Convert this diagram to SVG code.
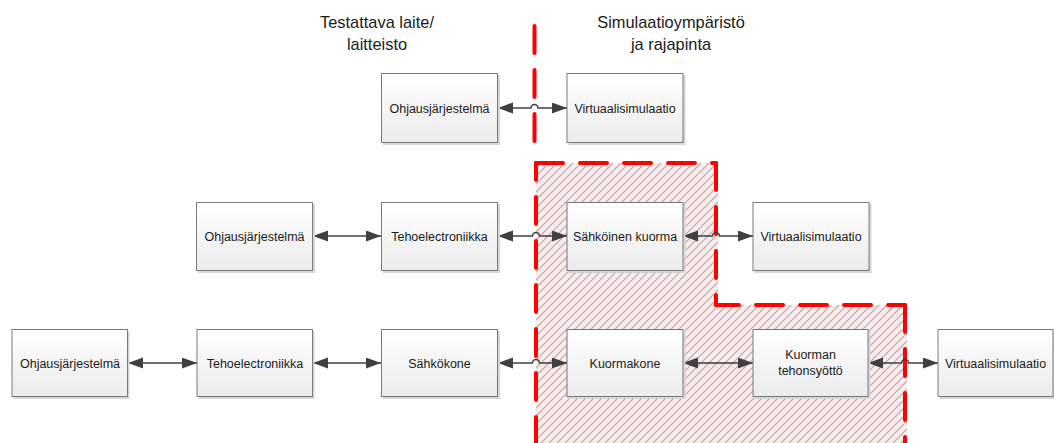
<svg xmlns="http://www.w3.org/2000/svg" width="1054" height="443" viewBox="0 0 1054 443">
<style>
.box{fill:url(#boxg);stroke:#7a7a7a;stroke-width:1}
.sh{fill:#d6d6d6}
.t{font-family:"Liberation Sans",Arial,sans-serif;font-size:12.5px;fill:#1a1a1a;text-anchor:middle}
.h{font-family:"Liberation Sans",Arial,sans-serif;font-size:16.4px;fill:#1a1a1a;text-anchor:middle}
.c{fill:none;stroke:#404040;stroke-width:1.5;marker-start:url(#ah);marker-end:url(#ah)}
.rd{fill:none;stroke:#ff0000;stroke-width:4;stroke-dasharray:27 17;stroke-linecap:round}
</style>
<defs>
<linearGradient id="boxg" x1="0" y1="0" x2="0" y2="1">
<stop offset="0" stop-color="#ffffff"/>
<stop offset="1" stop-color="#ebebeb"/>
</linearGradient>
<pattern id="hatch" patternUnits="userSpaceOnUse" width="8" height="8">
<rect width="8" height="8" fill="#f0f0f0"/>
<path d="M-2,2 L2,-2 M0,8 L8,0 M6,10 L10,6" stroke="#f28d8d" stroke-width="1.1"/>
</pattern>
<marker id="ah" markerUnits="userSpaceOnUse" markerWidth="16" markerHeight="12" refX="15" refY="5.5" orient="auto-start-reverse" viewBox="0 0 16 12">
<path d="M0,0 L15,5.5 L0,11 z" fill="#404040"/>
</marker>
</defs>

<g id="region">
<path d="M536,163 H718 V305 H907 V443 H536 Z" fill="url(#hatch)"/>
<line class="rd" x1="534.5" y1="26" x2="534.5" y2="142"/>
<line class="rd" x1="536" y1="163" x2="716" y2="163"/>
<line class="rd" x1="536" y1="163" x2="536" y2="443" style="stroke-dashoffset:10"/>
<line class="rd" x1="716" y1="163" x2="716" y2="305"/>
<line class="rd" x1="716" y1="305" x2="905" y2="305" style="stroke-dashoffset:-40"/>
<line class="rd" x1="905" y1="305" x2="905" y2="443"/>
</g>

<g id="headings">
<text class="h" x="377" y="28">Testattava laite/</text>
<text class="h" x="377" y="50">laitteisto</text>
<text class="h" x="671" y="28">Simulaatioympäristö</text>
<text class="h" x="671" y="50">ja rajapinta</text>
</g>

<g id="connectors">
<path class="c" d="M498,108 H531 A3.5,3.5 0 0 1 538,108 H567"/>
<path class="c" d="M313,236 H381"/>
<path class="c" d="M498,236 H532.5 A3.5,3.5 0 0 1 539.5,236 H567"/>
<path class="c" d="M683,236 H712.5 A3.5,3.5 0 0 1 719.5,236 H753"/>
<path class="c" d="M128,363 H197"/>
<path class="c" d="M313,363 H381"/>
<path class="c" d="M498,363 H532.5 A3.5,3.5 0 0 1 539.5,363 H567"/>
<path class="c" d="M683,363 H753"/>
<path class="c" d="M868,363 H901.5 A3.5,3.5 0 0 1 908.5,363 H938"/>
</g>

<g id="n1">
<rect class="sh" x="383" y="75" width="117" height="70"/>
<rect class="box" x="381.5" y="73.5" width="116" height="69"/>
<text class="t" x="439.5" y="112.5">Ohjausjärjestelmä</text>
</g>
<g id="n2">
<rect class="sh" x="568.5" y="75" width="117" height="70"/>
<rect class="box" x="567" y="73.5" width="116" height="69"/>
<text class="t" x="625" y="112.5">Virtuaalisimulaatio</text>
</g>

<g id="n3">
<rect class="sh" x="198" y="204" width="117" height="69"/>
<rect class="box" x="196.5" y="202.5" width="116" height="68"/>
<text class="t" x="254.5" y="240.5">Ohjausjärjestelmä</text>
</g>
<g id="n4">
<rect class="sh" x="383" y="204" width="117" height="69"/>
<rect class="box" x="381.5" y="202.5" width="116" height="68"/>
<text class="t" x="439.5" y="240.5">Tehoelectroniikka</text>
</g>
<g id="n5">
<rect class="sh" x="568.5" y="204" width="117" height="69"/>
<rect class="box" x="567" y="202.5" width="116" height="68"/>
<text class="t" x="625" y="240.5">Sähköinen kuorma</text>
</g>
<g id="n6">
<rect class="sh" x="754.5" y="204" width="117" height="69"/>
<rect class="box" x="753" y="202.5" width="116" height="68"/>
<text class="t" x="811" y="240.5">Virtuaalisimulaatio</text>
</g>

<g id="n7">
<rect class="sh" x="13.5" y="331" width="116" height="68"/>
<rect class="box" x="12" y="329.5" width="115.5" height="67"/>
<text class="t" x="70" y="367.5">Ohjausjärjestelmä</text>
</g>
<g id="n8">
<rect class="sh" x="198.5" y="331" width="116" height="68"/>
<rect class="box" x="197" y="329.5" width="115.5" height="67"/>
<text class="t" x="255" y="367.5">Tehoelectroniikka</text>
</g>
<g id="n9">
<rect class="sh" x="383" y="331" width="117" height="68"/>
<rect class="box" x="381.5" y="329.5" width="116" height="67"/>
<text class="t" x="439.5" y="367.5">Sähkökone</text>
</g>
<g id="n10">
<rect class="sh" x="568.5" y="331" width="117" height="68"/>
<rect class="box" x="567" y="329.5" width="116" height="67"/>
<text class="t" x="625" y="367.5">Kuormakone</text>
</g>
<g id="n11">
<rect class="sh" x="754.5" y="331" width="116" height="68"/>
<rect class="box" x="753" y="329.5" width="115" height="67"/>
<text class="t" x="810.5" y="359">Kuorman</text>
<text class="t" x="810.5" y="375">tehonsyöttö</text>
</g>
<g id="n12">
<rect class="sh" x="939.5" y="331" width="114.5" height="68"/>
<rect class="box" x="938" y="329.5" width="115" height="67"/>
<text class="t" x="995.5" y="367.5">Virtuaalisimulaatio</text>
</g>
</svg>
